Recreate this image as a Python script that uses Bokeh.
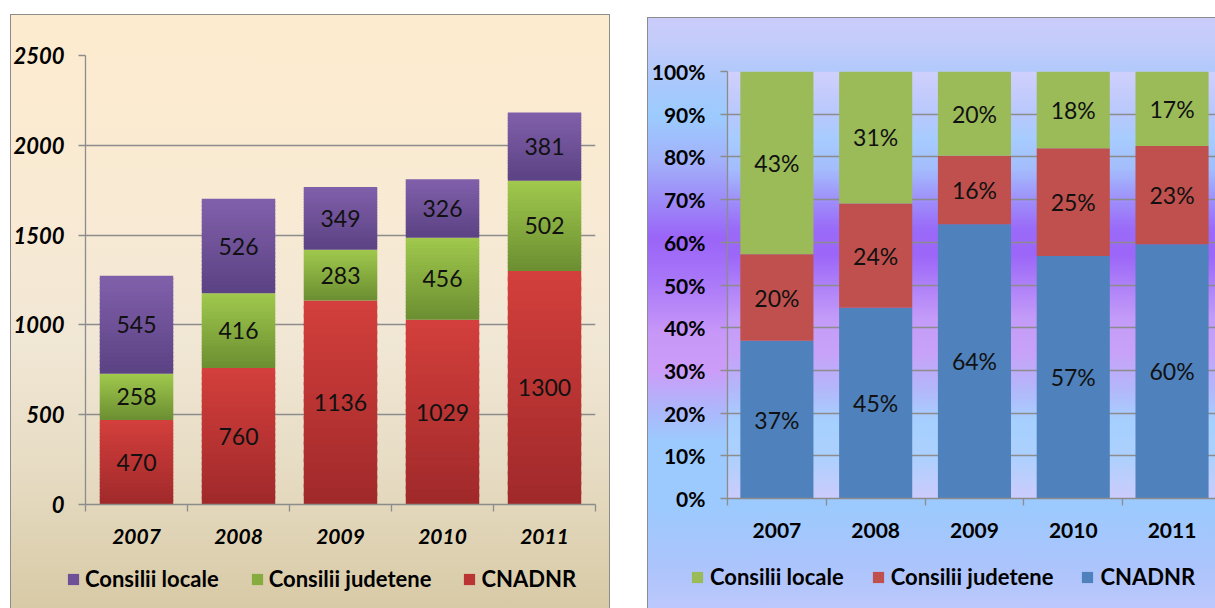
import numpy as np
from bokeh.plotting import figure
from bokeh.models import (ColumnDataSource, Range1d, FixedTicker, Legend, LegendItem,
                          NumeralTickFormatter)
from bokeh.layouts import row, column
from bokeh.embed import file_html
from bokeh.resources import INLINE
from bokeh.core.properties import value

# ---------------- data ----------------
years = ["2007", "2008", "2009", "2010", "2011"]
cnadnr = [470, 760, 1136, 1029, 1300]
consilii_judetene = [258, 416, 283, 456, 502]
consilii_locale = [545, 526, 349, 326, 381]
legend_names = ["Consilii locale", "Consilii judetene", "CNADNR"]
left_yticks = [0, 500, 1000, 1500, 2000, 2500]
right_yticks = [0.0, 0.1, 0.2, 0.3, 0.4, 0.5, 0.6, 0.7, 0.8, 0.9, 1.0]

FONT = "Lato"
GRID = "#8C8C8C"

def hex2rgb(h):
    h = h.lstrip("#")
    return tuple(int(h[i:i + 2], 16) for i in (0, 2, 4))

def mix(c1, c2, t):
    a, b = hex2rgb(c1), hex2rgb(c2)
    return "#%02x%02x%02x" % tuple(int(round(a[j] + (b[j] - a[j]) * t)) for j in range(3))

xc = np.arange(len(years)) + 0.5
xlabels = {float(x): y for x, y in zip(xc, years)}

def style_axes(p, ital):
    for ax in (p.yaxis[0], p.xaxis[0]):
        ax.axis_line_color = GRID
        ax.axis_line_width = 1.3
        ax.major_tick_line_color = GRID
        ax.major_tick_line_width = 1.3
        ax.minor_tick_line_color = GRID
        ax.minor_tick_line_width = 1.3
        ax.major_label_text_font = FONT
        ax.major_label_text_font_style = "bold italic" if ital else "bold"
        ax.major_label_text_color = "#000000"
    p.yaxis.major_tick_out = 7
    p.yaxis.major_tick_in = 0
    p.yaxis.minor_tick_out = 0
    p.yaxis.minor_tick_in = 0
    p.xaxis.ticker = FixedTicker(ticks=list(xc), minor_ticks=list(range(len(years) + 1)))
    p.xaxis.major_label_overrides = xlabels
    p.xaxis.major_tick_out = 0
    p.xaxis.major_tick_in = 0
    p.xaxis.minor_tick_out = 7
    p.xaxis.minor_tick_in = 0
    p.xaxis.major_label_standoff = 17
    p.xgrid.visible = False
    p.ygrid.grid_line_color = GRID
    p.ygrid.grid_line_width = 1.3

def legend_figure(width, height, colors, loc, spacing, standoff):
    lf = figure(width=width, height=height, x_range=Range1d(0, 1), y_range=Range1d(0, 1),
                title=None, output_backend="svg", toolbar_location=None,
                x_axis_location=None, y_axis_location=None,
                min_border=0, background_fill_alpha=0, border_fill_alpha=0,
                outline_line_color=None)
    try:
        lf.frame_align = False
    except Exception:
        pass
    lf.xgrid.visible = False
    lf.ygrid.visible = False
    items = []
    for name, col in zip(legend_names, colors):
        # legend swatch renderer; its single quad lies outside the visible range
        r = lf.quad(left=[-3], right=[-2], top=[-2], bottom=[-3], fill_color=col, line_color=None)
        items.append(LegendItem(label=name, renderers=[r]))
    leg = Legend(items=items, orientation="horizontal", location=loc, padding=0, margin=0,
                 spacing=spacing, glyph_width=14, glyph_height=14, label_standoff=standoff,
                 label_text_font=FONT, label_text_font_style="bold", label_text_font_size="22px",
                 label_text_color="#000000",
                 border_line_alpha=0, background_fill_alpha=0)
    lf.add_layout(leg, "center")
    return lf

# ---------------- left chart ----------------
BW1 = 0.72
NS = 24
p1 = figure(width=600, height=546, x_range=Range1d(0, 5), y_range=Range1d(0, 2500),
            title=None, output_backend="svg", toolbar_location=None,
            min_border_left=75, min_border_right=15, min_border_top=41, min_border_bottom=56,
            background_fill_alpha=0, border_fill_alpha=0, outline_line_color=None)

stack1 = [("CNADNR", cnadnr, "#A0292A", "#D33F3C"),
          ("Consilii judetene", consilii_judetene, "#6B8E31", "#A0C94D"),
          ("Consilii locale", consilii_locale, "#5B4283", "#8160AB")]
base = np.zeros(len(years))
lab_x, lab_y, lab_t = [], [], []
for name, vals, cb, ct in stack1:
    vals = np.array(vals, dtype=float)
    L, R, B, T, C = [], [], [], [], []
    for i in range(len(years)):
        b, h = base[i], vals[i]
        for k in range(NS):
            L.append(xc[i] - BW1 / 2); R.append(xc[i] + BW1 / 2)
            B.append(b + h * k / NS)
            T.append(b + h * (k + 1) / NS + (h / NS * 0.4 if k < NS - 1 else 0))
            C.append(mix(cb, ct, (k + 0.5) / NS))
        lab_x.append(xc[i]); lab_y.append(b + h / 2); lab_t.append(str(int(h)))
    src = ColumnDataSource(dict(left=L, right=R, bottom=B, top=T, color=C))
    p1.quad(left="left", right="right", bottom="bottom", top="top",
            fill_color="color", line_color=None, source=src)
    base = base + vals

p1.text(x=lab_x, y=lab_y, text=lab_t, text_font=value(FONT), text_font_size="23px",
        text_align="center", text_baseline="middle", text_color="#111111")

yt1 = FixedTicker(ticks=left_yticks)
p1.yaxis.ticker = yt1
p1.ygrid.ticker = yt1
style_axes(p1, True)
p1.yaxis.major_label_text_font_size = "22px"
p1.xaxis.major_label_text_font_size = "21px"
p1.yaxis.major_label_standoff = 14

lf1 = legend_figure(600, 48, ["#6E5096", "#86AB3F", "#B93433"], (56, 16), 31, 5)

left_panel = column(p1, lf1, spacing=0,
                    styles={"background": "linear-gradient(to bottom, #FDEBCE 0%, #F8EAD4 35%, #F1E7D5 55%, #E6DBC2 78%, #D8CAA6 100%)",
                            "box-shadow": "inset 1px 1px 0 #8C8C8C, inset -1px 0 0 #8C8C8C"})
left_panel.margin = (14, 0, 0, 10)

# ---------------- right chart ----------------
totals = np.array(cnadnr, float) + np.array(consilii_judetene, float) + np.array(consilii_locale, float)
share = {
    "cnadnr": np.array(cnadnr, float) / totals,
    "judetene": np.array(consilii_judetene, float) / totals,
    "locale": np.array(consilii_locale, float) / totals,
}
BW2 = 0.74
XEND = 4.94
p2 = figure(width=568, height=541, x_range=Range1d(0, XEND), y_range=Range1d(0, 1),
            title=None, output_backend="svg", toolbar_location=None,
            min_border_left=80, min_border_right=0, min_border_top=54, min_border_bottom=60,
            background_fill_alpha=0, border_fill_alpha=0, outline_line_color=None)

# plot-area gradient (from top fraction -> colour)
stops = [(0.0, "#D0D0FC"), (0.10, "#B8C8FC"), (0.16, "#A6CCFE"), (0.23, "#A4BCFC"),
         (0.30, "#9E90FA"), (0.37, "#9A6AF8"), (0.43, "#9C66F8"), (0.50, "#AE80F8"),
         (0.58, "#C49CF8"), (0.66, "#C8A2F8"), (0.74, "#B4B6FA"), (0.82, "#A6D0FE"),
         (0.90, "#ACD0FE"), (1.0, "#CCCCFC")]
M = 200
img = np.zeros((M, 1), dtype=np.uint32)
view = img.view(dtype=np.uint8).reshape((M, 1, 4))
for r in range(M):
    f = 1 - (r + 0.5) / M  # row 0 is bottom
    for j in range(len(stops) - 1):
        if stops[j][0] <= f <= stops[j + 1][0]:
            t = (f - stops[j][0]) / (stops[j + 1][0] - stops[j][0])
            col = hex2rgb(mix(stops[j][1], stops[j + 1][1], t))
            break
    view[r, 0, 0], view[r, 0, 1], view[r, 0, 2], view[r, 0, 3] = col[0], col[1], col[2], 255
p2.image_rgba(image=[img], x=0, y=0, dw=XEND, dh=1, level="image")

src2 = ColumnDataSource(dict(x=xc, cnadnr=share["cnadnr"], judetene=share["judetene"], locale=share["locale"]))
p2.vbar_stack(["cnadnr", "judetene", "locale"], x="x", width=BW2,
              fill_color=["#4F81BD", "#C0504D", "#9BBB59"], line_color=None, source=src2)

lx, ly, lt = [], [], []
b2 = np.zeros(len(years))
for key in ["cnadnr", "judetene", "locale"]:
    for i in range(len(years)):
        lx.append(xc[i]); ly.append(b2[i] + share[key][i] / 2)
        lt.append("%d%%" % int(round(share[key][i] * 100)))
    b2 = b2 + share[key]
p2.text(x=lx, y=ly, text=lt, text_font=value(FONT), text_font_size="23px",
        text_align="center", text_baseline="middle", text_color="#111111")

yt2 = FixedTicker(ticks=right_yticks)
p2.yaxis.ticker = yt2
p2.ygrid.ticker = yt2
p2.yaxis.formatter = NumeralTickFormatter(format="0%")
style_axes(p2, False)
p2.yaxis.major_label_text_font_size = "21px"
p2.xaxis.major_label_text_font_size = "21px"
p2.yaxis.major_label_standoff = 15

lf2 = legend_figure(568, 50, ["#9BBB59", "#C0504D", "#4F81BD"], (43, 18), 27, 6)

right_panel = column(p2, lf2, spacing=0,
                     styles={"background": "linear-gradient(to bottom, #CACCFA 0%, #C4CCFA 4%, #A8C8FC 11.7%, #9CCBFE 16.8%, #A2B0FA 24.5%, #9C88F8 31.4%, #9A64F8 37.4%, #A876F8 44.3%, #C898F8 53.7%, #CC9CF8 59.7%, #B0B4FA 65.7%, #9CCAFE 71.7%, #9CCAFE 82.8%, #ACC4FC 93%, #BCC8FC 100%)",
                             "box-shadow": "inset 1px 1px 0 #8C8C8C"})
right_panel.margin = (17, 0, 0, 37)

layout = row(left_panel, right_panel, spacing=0)
open("out.html", "w").write(file_html(layout, INLINE))
